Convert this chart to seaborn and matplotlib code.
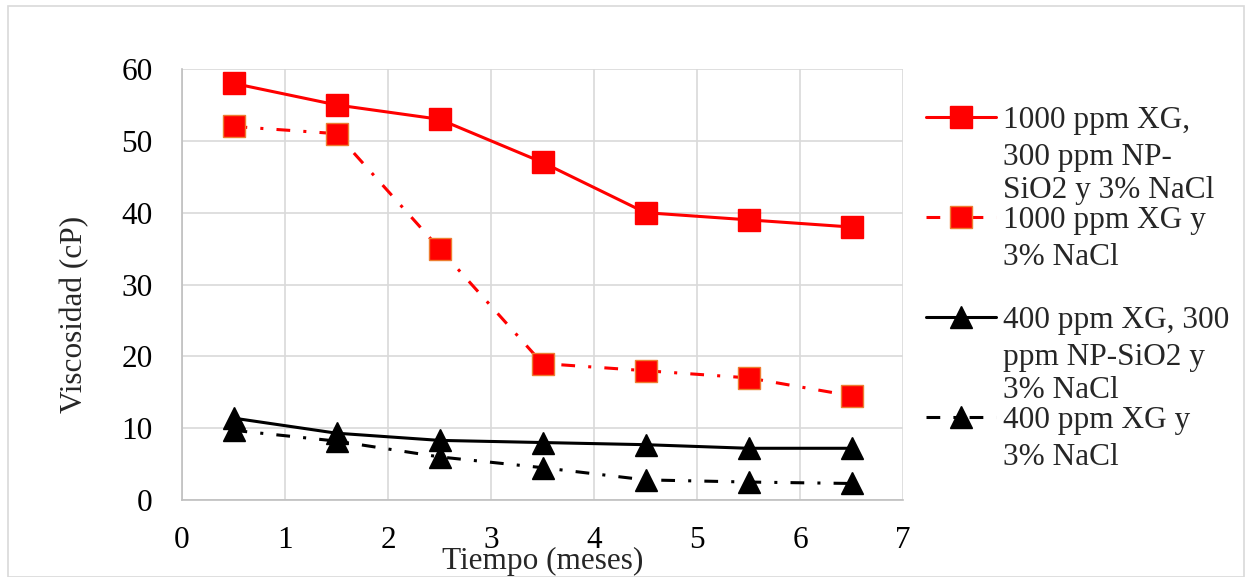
import matplotlib
matplotlib.use("Agg")
import matplotlib.pyplot as plt
import seaborn as sns
from matplotlib.patches import Rectangle

meses = [0.5, 1.5, 2.5, 3.5, 4.5, 5.5, 6.5]
xg1000_np = [58, 55, 53, 47, 40, 39, 38]
xg1000 = [52, 51, 35, 19, 18, 17, 14.5]
xg400_np = [11.4, 9.3, 8.3, 8.0, 7.7, 7.2, 7.2]
xg400 = [9.7, 8.2, 6.0, 4.5, 2.8, 2.5, 2.3]

labels = [
    "1000 ppm XG,\n300 ppm NP-\nSiO2 y 3% NaCl",
    "1000 ppm XG y\n3% NaCl",
    "400 ppm XG, 300\nppm NP-SiO2 y\n3% NaCl",
    "400 ppm XG y\n3% NaCl",
]

sns.set_theme(style="white")
plt.rcParams['font.family'] = ['Liberation Serif', 'DejaVu Serif']
FS = 22.5

fig = plt.figure(figsize=(12.46, 5.77), dpi=100)
ax = fig.add_axes([182/1246, 1-500/577, (903-182)/1246, (500-69)/577])

dashdot = (0, (4.5, 4.3, 1.0, 4.3))
series = [
    (xg1000_np, "#FF0000", "s", "-", "#FF0000", 16.5),
    (xg1000, "#FF0000", "s", dashdot, "#ED7D31", 16.5),
    (xg400_np, "#000000", "^", "-", "#000000", 16),
    (xg400, "#000000", "^", dashdot, "#000000", 16),
]
for (vals, col, mk, ls, ec, ms), lab in zip(series, labels):
    sns.lineplot(x=meses, y=vals, ax=ax, color=col, marker=mk, linestyle=ls,
                 linewidth=2.2, markersize=ms, markeredgecolor=ec,
                 markeredgewidth=1.0, label=lab.split("\n")[0])

ax.set_xlim(0, 7)
ax.set_ylim(0, 60)
ax.set_xticks(range(0, 8))
ax.set_yticks(range(0, 61, 10))
ax.grid(True, color="#D9D9D9", linewidth=1.2)
for s in ["top", "right"]:
    ax.spines[s].set_visible(False)
for s in ["left", "bottom"]:
    ax.spines[s].set_color("#BFBFBF")
    ax.spines[s].set_linewidth(1.2)
ax.tick_params(axis="both", labelsize=FS, colors="black", length=0)
ax.tick_params(axis="x", pad=19)
ax.tick_params(axis="y", pad=21)
ax.set_xlabel("Tiempo (meses)", fontsize=FS, labelpad=-6)
ax.set_ylabel("Viscosidad (cP)", fontsize=FS)
ax.yaxis.set_label_coords(-0.128, 0.43)

leg = ax.legend(loc="upper left", bbox_to_anchor=(926/1246, 1-106/577),
                bbox_transform=fig.transFigure, frameon=False, fontsize=FS,
                handlelength=2.25, handletextpad=0.2, labelspacing=2.27,
                borderpad=0, borderaxespad=0)
for t, lab in zip(leg.get_texts(), labels):
    rest = lab.split("\n")[1:]
    if rest:
        ax.annotate("\n".join(rest), xy=(0, 0), xycoords=t, xytext=(0, -8),
                    textcoords="offset pixels", ha="left", va="top",
                    fontsize=FS, linespacing=1.2, zorder=10,
                    annotation_clip=False)

fig.patches.append(Rectangle((8/1246, 0), 1 - 8/1246 - 2/1246, 1 - 6/577,
                             transform=fig.transFigure, fill=False,
                             edgecolor="#D9D9D9", linewidth=1.2))

fig.canvas.draw()
fig.savefig("out.png", dpi=100)
